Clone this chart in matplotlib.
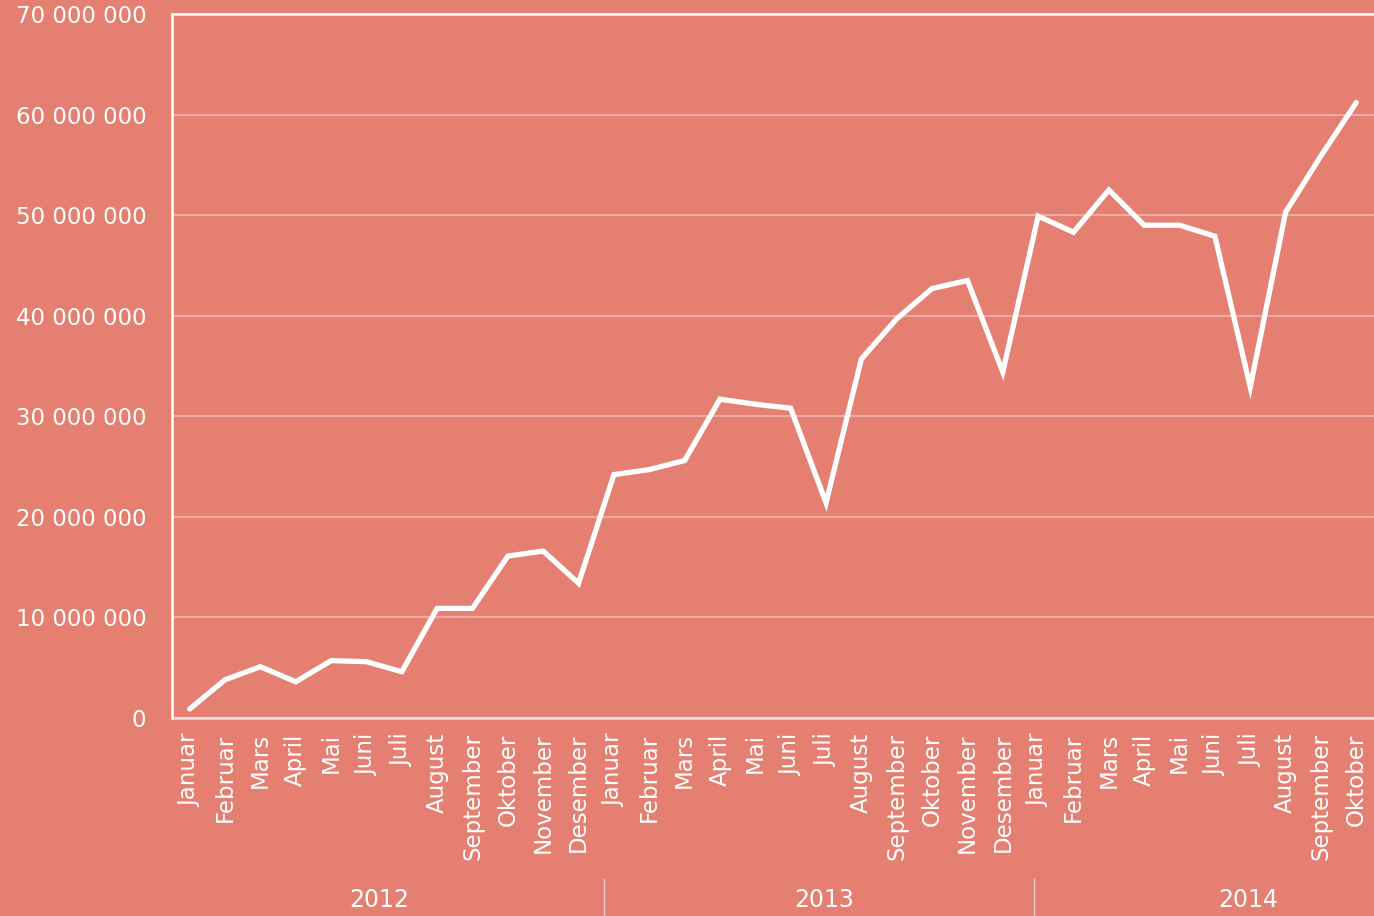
import matplotlib
matplotlib.use("Agg")
import matplotlib.pyplot as plt
from matplotlib.ticker import FuncFormatter

months = ["Januar", "Februar", "Mars", "April", "Mai", "Juni", "Juli",
          "August", "September", "Oktober", "November", "Desember"]
years = ["2012", "2013", "2014"]
labels = months + months + months[:10]

# verdier i millioner
values = [0.9, 3.8, 5.1, 3.6, 5.7, 5.6, 4.6, 10.9, 10.9, 16.1, 16.6, 13.4,
          24.2, 24.7, 25.6, 31.7, 31.2, 30.8, 21.4, 35.7, 39.7, 42.7, 43.5, 34.4,
          49.9, 48.3, 52.5, 49.0, 49.0, 47.9, 32.9, 50.3, 55.9, 61.2]
year_pos = [5.35, 17.96, 29.95]
year_seps = [11.72, 23.87]

bg = "#e47f72"
plt.rcParams['font.family'] = ['DejaVu Sans']

fig = plt.figure(figsize=(13.74, 9.16), dpi=100, facecolor=bg)
ax = fig.add_axes([172/1374, 1 - 718/916, 1 - 172/1374, (718 - 14)/916])
ax.set_facecolor(bg)

x = list(range(len(values)))
ax.plot(x, [v * 1e6 for v in values], color="white", lw=3.8,
        solid_capstyle="round", solid_joinstyle="miter", zorder=3, clip_on=False)

ax.set_xlim(-0.5, len(values) - 0.5)
ax.set_ylim(0, 70e6)
ax.set_yticks([i * 10e6 for i in range(8)])
ax.yaxis.set_major_formatter(FuncFormatter(lambda v, p: f"{int(v):,}".replace(",", " ")))
ax.grid(axis="y", color="white", alpha=0.35, lw=1.5)
ax.set_axisbelow(True)

ax.set_xticks(x)
ax.set_xticklabels(labels, rotation=90, fontsize=16.5, color="white")
ax.tick_params(axis="x", length=0, pad=11)
ax.tick_params(axis="y", length=0, pad=18.5, labelsize=16.5, labelcolor="white")

for s in ["left", "top"]:
    ax.spines[s].set_color("white")
    ax.spines[s].set_linewidth(1.8)
ax.spines["right"].set_visible(False)
ax.spines["bottom"].set_color("#e6e6e6")
ax.spines["bottom"].set_linewidth(1.8)

trans = ax.get_xaxis_transform()
for xp, yr in zip(year_pos, years):
    ax.text(xp, -0.259, yr, transform=trans, ha="center", va="center",
            fontsize=17, color="white", clip_on=False)
for xs in year_seps:
    ax.plot([xs, xs], [-0.228, -0.29], transform=trans, color="#f3d2cd",
            lw=1, clip_on=False)

fig.savefig("out.png", dpi=100, facecolor=bg)
